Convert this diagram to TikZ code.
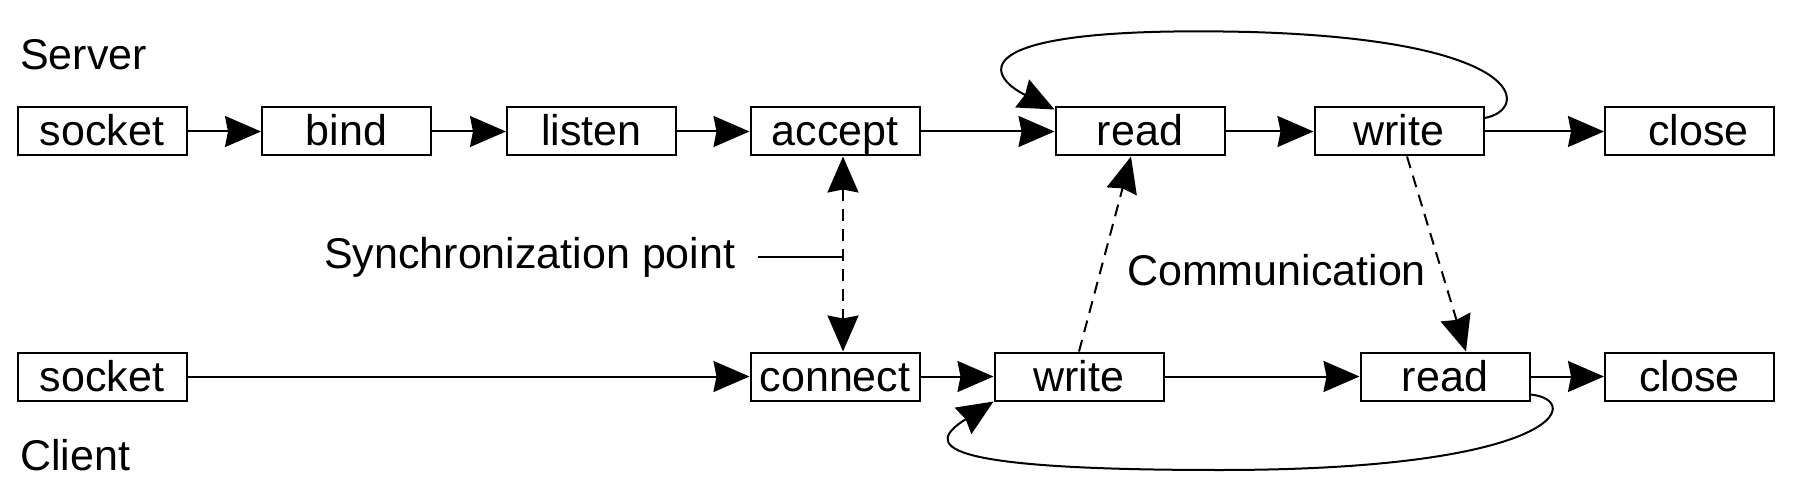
\documentclass[tikz,border=0pt]{standalone}
\usepackage{fontspec}
\setmainfont{Liberation Sans}
\usetikzlibrary{arrows.meta}
\begin{document}
\begin{tikzpicture}[x=1pt,y=-1pt,
  box/.style={draw, line width=2pt, minimum width=169pt, minimum height=48pt, inner sep=0pt, text height=29pt, text depth=0pt, font=\fontsize{43}{50}\selectfont},
  lbl/.style={inner sep=0pt, font=\fontsize{43}{50}\selectfont, anchor=base west},
  tip/.tip={Stealth[length=36pt,width=31pt,inset=3pt]},
  flow/.style={line width=2pt, -tip},
  dsh/.style={line width=2pt, dash pattern=on 12pt off 8pt}
]
\useasboundingbox (0,0) rectangle (1794,484);
% server row
\node[box] (ssocket) at (102,131.5) {socket};
\node[box] (bind) at (346.5,131.5) {bind};
\node[box] (listen) at (591.5,131.5) {listen};
\node[box] (accept) at (835,131.5) {accept};
\node[box] (sread) at (1140,131.5) {read};
\node[box] (swrite) at (1399,131.5) {write};
\node[box] (sclose) at (1689.5,131.5) {\hspace*{18pt}close};
% client row
\node[box] (csocket) at (102,376.5) {socket};
\node[box] (connect) at (835,376.5) {connect};
\node[box] (cwrite) at (1079,376.5) {write};
\node[box] (cread) at (1445,376.5) {read};
\node[box] (cclose) at (1689.5,376.5) {close};
% labels
\node[lbl] (server) at (20,70) {Server};
\node[lbl] (client) at (20,470) {Client};
\node[lbl] (sync) at (324,268) {Synchronization point};
\node[lbl] (comm) at (1127,285) {Communication};
% server flow
\draw[flow] (ssocket) -- (bind);
\draw[flow] (bind) -- (listen);
\draw[flow] (listen) -- (accept);
\draw[flow] (accept) -- (sread);
\draw[flow] (sread) -- (swrite);
\draw[flow] (swrite) -- (sclose);
% client flow
\draw[flow] (csocket) -- (connect);
\draw[flow] (connect) -- (cwrite);
\draw[flow] (cwrite) -- (cread);
\draw[flow] (cread) -- (cclose);
% loops
\draw[flow] ([yshift=13.5pt]swrite.east) .. controls (1530,110) and (1530,40) .. (1250,32)
  .. controls (960,25) and (985,75) .. ([yshift=-3pt]sread.north west);
\draw[flow] ([yshift=7pt]cread.south east) .. controls (1585,400) and (1560,470) .. (1220,470)
  .. controls (930,470) and (925,445) .. (cwrite.south west);
% synchronization
\coordinate (sx) at ([xshift=8pt]accept.south);
\draw[dsh, tip-tip] (sx) -- ([xshift=8pt]connect.north);
\draw[line width=2pt] ([xshift=22pt]sync.east) -- (sync.east -| sx);
% communication
\draw[dsh, -tip] (cwrite.north) -- ([xshift=-9pt]sread.south);
\draw[dsh, -tip] ([xshift=8pt]swrite.south) -- ([xshift=21pt]cread.north);
\end{tikzpicture}
\end{document}
